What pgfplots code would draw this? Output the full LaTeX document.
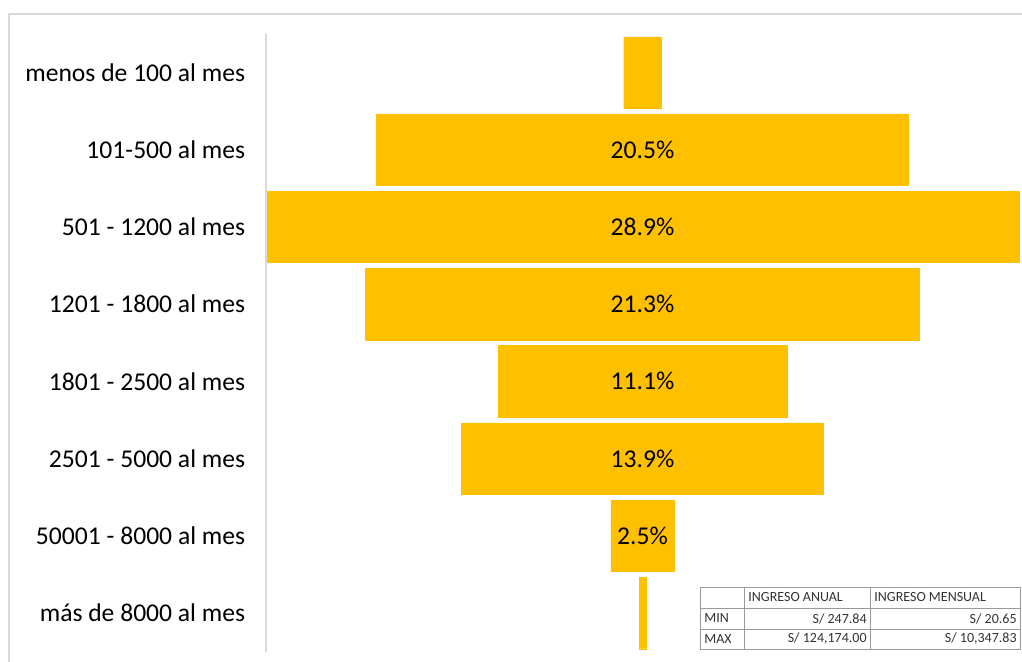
\documentclass[border=0pt]{standalone}
\usepackage{fontspec}
\setmainfont{Carlito}
\usepackage{pgfplots}
\pgfplotsset{compat=1.18}

\definecolor{barc}{HTML}{FFC000}
\definecolor{frame}{HTML}{D9D9D9}
\definecolor{tline}{HTML}{9A9A9A}
\definecolor{ttext}{HTML}{333333}

\begin{document}
\begin{tikzpicture}
% chart frame (top and left edges visible)
\draw[frame, line width=1pt] (4.25pt,0) -- (4.25pt,324pt) -- (511pt,324pt);

\begin{axis}[
    at={(132.75pt,5.2pt)}, anchor=south west,
    scale only axis,
    width=377pt, height=308.85pt,
    xmin=-14.45, xmax=14.45,
    ymin=-0.5, ymax=7.5,
    y dir=reverse,
    axis line style={draw=none},
    xtick=\empty,
    ytick={0,1,2,3,4,5,6,7},
    yticklabels={menos de 100 al mes, 101-500 al mes, 501 - 1200 al mes,
                 1201 - 1800 al mes, 1801 - 2500 al mes, 2501 - 5000 al mes,
                 50001 - 8000 al mes, más de 8000 al mes},
    major tick length=0pt,
    yticklabel style={font=\fontsize{12.8}{14}\selectfont, inner sep=0pt, xshift=-10pt, anchor=east},
    clip=false,
]
% right half of each funnel bar (value/2)
\addplot[xbar, bar shift=0pt, bar width=0.926, fill=barc, draw=barc, line width=0.2pt] coordinates {
(0.72,0) (10.19,1) (14.44,2) (10.61,3) (5.54,4) (6.94,5) (1.21,6) (0.13,7)
};
% left half
\addplot[xbar, bar shift=0pt, bar width=0.926, fill=barc, draw=barc, line width=0.2pt] coordinates {
(-0.72,0) (-10.19,1) (-14.44,2) (-10.61,3) (-5.54,4) (-6.94,5) (-1.21,6) (-0.13,7)
};
% data labels
\addplot[draw=none, mark=none, point meta=explicit symbolic,
    nodes near coords,
    every node near coord/.append style={anchor=center, font=\fontsize{12.8}{14}\selectfont, text=black}]
coordinates {
(0,1) [20.5\%] (0,2) [28.9\%] (0,3) [21.3\%] (0,4) [11.1\%] (0,5) [13.9\%] (0,6) [2.5\%]
};
\draw[frame, line width=1pt] (rel axis cs:0,0) -- (rel axis cs:0,1);
\end{axis}

% summary table
\begin{scope}[font=\fontsize{7}{8}\selectfont, text=ttext]
\draw[tline, line width=0.4pt] (350pt,6.5pt) rectangle (510pt,37.5pt);
\draw[tline, line width=0.4pt] (350pt,27pt) -- (510pt,27pt) (350pt,16.5pt) -- (510pt,16.5pt);
\draw[tline, line width=0.4pt] (372pt,6.5pt) -- (372pt,37.5pt) (435pt,6.5pt) -- (435pt,37.5pt);
\node[anchor=west, inner sep=0pt] at (374pt,32.25pt) {INGRESO ANUAL};
\node[anchor=west, inner sep=0pt] at (437pt,32.25pt) {INGRESO MENSUAL};
\node[anchor=west, inner sep=0pt] at (352pt,21.75pt) {MIN};
\node[anchor=west, inner sep=0pt] at (352pt,11.5pt) {MAX};
\node[anchor=east, inner sep=0pt] at (433.5pt,21.75pt) {S/ 247.84};
\node[anchor=east, inner sep=0pt] at (433.5pt,11.5pt) {S/ 124,174.00};
\node[anchor=east, inner sep=0pt] at (508.5pt,21.75pt) {S/ 20.65};
\node[anchor=east, inner sep=0pt] at (508.5pt,11.5pt) {S/ 10,347.83};
\end{scope}

\pgfresetboundingbox
\path[use as bounding box] (0,0) rectangle (511pt,331pt);
\end{tikzpicture}
\end{document}
